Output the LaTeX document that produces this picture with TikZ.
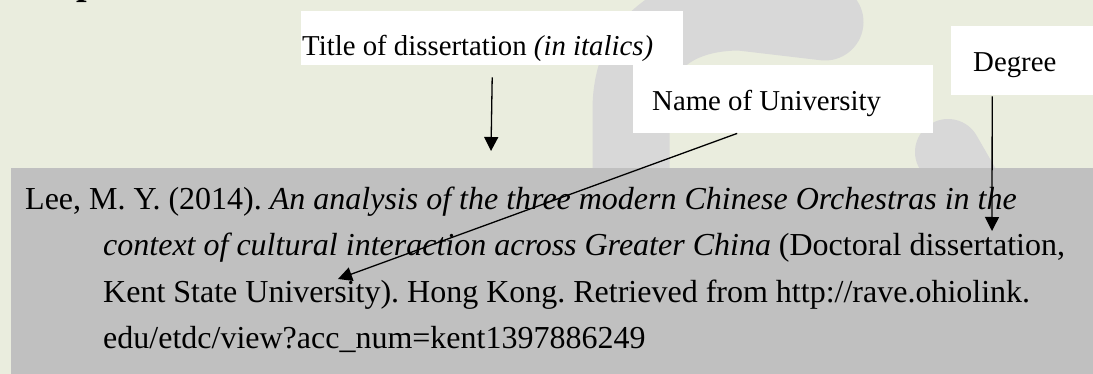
\documentclass[tikz,border=0pt]{standalone}
\usepackage{fontspec}
\setmainfont{Liberation Serif}
\usetikzlibrary{arrows.meta}
\definecolor{pagebg}{RGB}{234,237,222}
\definecolor{refbox}{RGB}{192,192,192}
\definecolor{swoosh}{RGB}{216,216,216}
\begin{document}
\frenchspacing
\begin{tikzpicture}[x=1pt,y=-1pt,
  labelbox/.style={fill=white, draw=none, inner sep=0pt, anchor=north west},
  labeltext/.style={inner sep=0pt, anchor=base west, font=\fontsize{28.8}{34}\selectfont},
  reftext/.style={inner sep=0pt, anchor=base west, font=\fontsize{32}{38}\selectfont},
  pointer/.style={draw=black, line width=1.3pt, -{Triangle[length=14pt,width=14pt]}},
  swooshstroke/.style={draw=swoosh, line cap=round}
]
% page background
\fill[pagebg] (0,0) rectangle (1093,374);
\useasboundingbox (0,0) rectangle (1093,374);

% decorative swooshes behind the content
\draw[swooshstroke, line width=77pt] (631,240) -- (631,110)
  .. controls (631,40) and (680,12) .. (740,12) -- (825,22);
\draw[swooshstroke, line width=66pt] (948,152) -- (990,225);

% fragment of the slide heading above the frame
\node[inner sep=0pt, anchor=base west, font=\fontsize{38}{38}\selectfont\bfseries] (headp) at (76,-5.5) {p};

% reference panel
\fill[refbox] (11,168) rectangle (1093,374);

% annotation boxes
\node[labelbox, minimum width=382pt, minimum height=54pt] (titlebox) at (301,11) {};
\node[labelbox, minimum width=300pt, minimum height=68pt] (namebox) at (633,65) {};
\node[labelbox, minimum width=142pt, minimum height=69pt] (degbox) at (951,26) {};

\node[labeltext] (titletext) at (302,56) {Title of dissertation \textit{(in italics)}};
\node[labeltext] (nametext) at (652,111) {Name of University};
\node[labeltext] (degtext) at (973,72) {Degree};

% reference entry
\node[reftext] (line1) at (25,210) {Lee, M. Y. (2014). \textit{An analysis of the three modern Chinese Orchestras in the}};
\node[reftext] (line2) at (103,256) {\textit{context of cultural interaction across Greater China} (Doctoral dissertation,};
\node[reftext] (line3) at (103,302) {Kent State University). Hong Kong. Retrieved from http://rave.ohiolink.};
\node[reftext] (line4) at (103,348) {edu/etdc/view?acc\_num=kent1397886249};

% pointers
\coordinate (titletip) at (491,151);
\coordinate (nametip) at (338,279);
\coordinate (degtip) at (992,231);
\draw[pointer] ([yshift=-12pt]titlebox.south) -- (titletip);
\draw[pointer] ([xshift=-46pt]namebox.south) -- (nametip);
\draw[pointer] ([xshift=-30pt,yshift=-1pt]degbox.south) -- (degtip);
\end{tikzpicture}
\end{document}
